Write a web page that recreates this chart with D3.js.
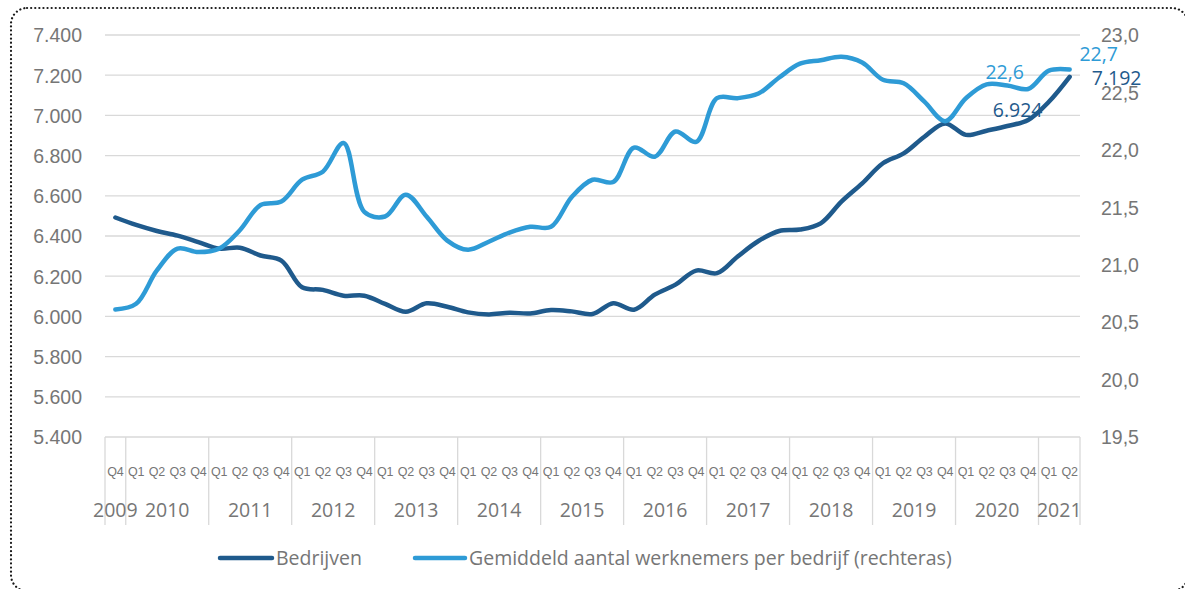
<!DOCTYPE html>
<html>
<head>
<meta charset="utf-8">
<script src="https://cdn.jsdelivr.net/npm/d3@7"></script>
<style>
  html, body { margin: 0; padding: 0; background: #fff; }
  svg { display: block; font-family: "Open Sans", "Liberation Sans", sans-serif; }
</style>
</head>
<body>
<svg id="chart" width="1185" height="589"></svg>
<script>
// ---------- data ----------
const years = ["2009","2010","2011","2012","2013","2014","2015","2016","2017","2018","2019","2020","2021"];
const quartersPerYear = [["Q4"],["Q1","Q2","Q3","Q4"],["Q1","Q2","Q3","Q4"],["Q1","Q2","Q3","Q4"],["Q1","Q2","Q3","Q4"],["Q1","Q2","Q3","Q4"],["Q1","Q2","Q3","Q4"],["Q1","Q2","Q3","Q4"],["Q1","Q2","Q3","Q4"],["Q1","Q2","Q3","Q4"],["Q1","Q2","Q3","Q4"],["Q1","Q2","Q3","Q4"],["Q1","Q2"]];

const bedrijven = [6492,6455,6425,6402,6370,6337,6342,6303,6278,6145,6132,6103,6103,6062,6023,6065,6048,6020,6010,6018,6015,6032,6025,6012,6065,6033,6108,6158,6228,6215,6298,6375,6425,6432,6463,6571,6662,6762,6811,6894,6960,6903,6924,6947,6977,7068,7192];
const werknemers = [20.61,20.66,20.95,21.14,21.11,21.14,21.30,21.52,21.55,21.74,21.81,22.06,21.46,21.42,21.61,21.42,21.21,21.13,21.20,21.28,21.33,21.33,21.59,21.74,21.72,22.02,21.94,22.16,22.07,22.45,22.45,22.49,22.63,22.75,22.78,22.81,22.76,22.61,22.58,22.42,22.25,22.45,22.57,22.56,22.53,22.69,22.70];

const leftTicks = [5400,5600,5800,6000,6200,6400,6600,6800,7000,7200,7400];
const rightTicks = [19.5,20.0,20.5,21.0,21.5,22.0,22.5,23.0];
const seriesNames = ["Bedrijven","Gemiddeld aantal werknemers per bedrijf (rechteras)"];
// labelled points: index of category
const labelIdx = [42, 46];

// ---------- build categories ----------
const categories = [];
const quarterLabel = [];
const yearGroups = [];
years.forEach((y, yi) => {
  const start = categories.length;
  quartersPerYear[yi].forEach(q => { categories.push(y + " " + q); quarterLabel.push(q); });
  yearGroups.push({year: y, start: start, end: categories.length});
});

// ---------- styles ----------
const cDark = "#1F5A8C", cLight = "#2E9BD6", cText = "#767676", cGrid = "#d9d9d9";
const fs = 19.5;
const nl = d3.formatLocale({decimal: ",", thousands: ".", grouping: [3], currency: ["€",""]});
const fmtL = nl.format(",d"), fmtR = nl.format(".1f");

const svg = d3.select("#chart");
const pLeft = 105, pRight = 1080, pTop = 35, pBottom = 437;

const x = d3.scaleBand().domain(categories).range([pLeft, pRight]).padding(0);
const yL = d3.scaleLinear().domain([5400, 7400]).range([pBottom, pTop]);
const yR = d3.scaleLinear().domain([19.5, 23]).range([pBottom, pTop]);
const cx = i => x(categories[i]) + x.bandwidth() / 2;

// border
svg.append("rect").attr("x", 11).attr("y", 8).attr("width", 1177).attr("height", 583)
  .attr("rx", 16).attr("fill", "none").attr("stroke", "#1a1a1a").attr("stroke-width", 2.2)
  .attr("stroke-linecap", "round").attr("stroke-dasharray", "0.1 4");

// gridlines
svg.append("g").selectAll("line").data(leftTicks).join("line")
  .attr("x1", pLeft).attr("x2", pRight).attr("y1", d => yL(d)).attr("y2", d => yL(d))
  .attr("stroke", cGrid).attr("stroke-width", 1.3);

// left axis
const gL = svg.append("g").attr("transform", `translate(${82},0)`)
  .call(d3.axisLeft(yL).tickValues(leftTicks).tickFormat(fmtL).tickSize(0).tickPadding(0));
gL.select(".domain").remove();
gL.selectAll("text").attr("fill", cText).attr("font-size", fs).attr("dy", "0.35em");

// right axis
const gR = svg.append("g").attr("transform", `translate(${1101},0)`)
  .call(d3.axisRight(yR).tickValues(rightTicks).tickFormat(fmtR).tickSize(0).tickPadding(0));
gR.select(".domain").remove();
gR.selectAll("text").attr("fill", cText).attr("font-size", fs).attr("dy", "0.35em");

// bottom axis: quarters
const gB = svg.append("g").attr("transform", `translate(0,${pBottom})`)
  .call(d3.axisBottom(x).tickSize(0).tickPadding(0).tickFormat((d, i) => quarterLabel[i]));
gB.select(".domain").remove();
gB.selectAll("text").attr("fill", cText).attr("font-size", 12.5).attr("y", 35).attr("dy", "0.35em")
  .attr("letter-spacing", "-0.2");

// year separators
const seps = [pLeft].concat(yearGroups.map(g => g.end === categories.length ? pRight : x(categories[g.end])));
svg.append("g").selectAll("line").data(seps).join("line")
  .attr("x1", d => d).attr("x2", d => d).attr("y1", pBottom).attr("y2", 525)
  .attr("stroke", cGrid).attr("stroke-width", 1.3);

// year labels
svg.append("g").selectAll("text").data(yearGroups).join("text")
  .attr("x", g => (x(categories[g.start]) + (g.end === categories.length ? pRight : x(categories[g.end]))) / 2)
  .attr("y", 510).attr("dy", "0.35em").attr("text-anchor", "middle")
  .attr("fill", cText).attr("font-size", fs).text(g => g.year);

// lines
const lineL = d3.line().x((d, i) => cx(i)).y(d => yL(d)).curve(d3.curveCatmullRom.alpha(0.5));
const lineR = d3.line().x((d, i) => cx(i)).y(d => yR(d)).curve(d3.curveCatmullRom.alpha(0.5));
svg.append("path").datum(bedrijven).attr("d", lineL).attr("fill", "none")
  .attr("stroke", cDark).attr("stroke-width", 4.5).attr("stroke-linecap", "round").attr("stroke-linejoin", "round");
svg.append("path").datum(werknemers).attr("d", lineR).attr("fill", "none")
  .attr("stroke", cLight).attr("stroke-width", 4.5).attr("stroke-linecap", "round").attr("stroke-linejoin", "round");

// data labels
const lbl = svg.append("g").attr("font-size", fs);
// 2020 Q2
lbl.append("text").attr("x", cx(labelIdx[0]) + 18).attr("y", yR(werknemers[labelIdx[0]]) - 5.5)
  .attr("text-anchor", "middle").attr("fill", cLight).text(fmtR(werknemers[labelIdx[0]]));
lbl.append("text").attr("x", cx(labelIdx[0]) + 31).attr("y", yL(bedrijven[labelIdx[0]]) - 14)
  .attr("text-anchor", "middle").attr("fill", cDark).text(fmtL(bedrijven[labelIdx[0]]));
// 2021 Q2
lbl.append("text").attr("x", cx(labelIdx[1]) + 29).attr("y", yR(werknemers[labelIdx[1]]) - 8.5)
  .attr("text-anchor", "middle").attr("fill", cLight).text(fmtR(werknemers[labelIdx[1]]));
lbl.append("text").attr("x", cx(labelIdx[1]) + 47).attr("y", yL(bedrijven[labelIdx[1]]) + 8)
  .attr("text-anchor", "middle").attr("fill", cDark).text(fmtL(bedrijven[labelIdx[1]]));

// legend
const legend = [
  {name: seriesNames[0], color: cDark, x1: 220, x2: 272, tx: 276},
  {name: seriesNames[1], color: cLight, x1: 415, x2: 465, tx: 469}
];
const lg = svg.append("g");
legend.forEach(l => {
  lg.append("line").attr("x1", l.x1).attr("x2", l.x2).attr("y1", 558).attr("y2", 558)
    .attr("stroke", l.color).attr("stroke-width", 4.5).attr("stroke-linecap", "round");
  lg.append("text").attr("x", l.tx).attr("y", 558).attr("dy", "0.35em")
    .attr("fill", cText).attr("font-size", fs).text(l.name);
});
</script>
</body>
</html>
